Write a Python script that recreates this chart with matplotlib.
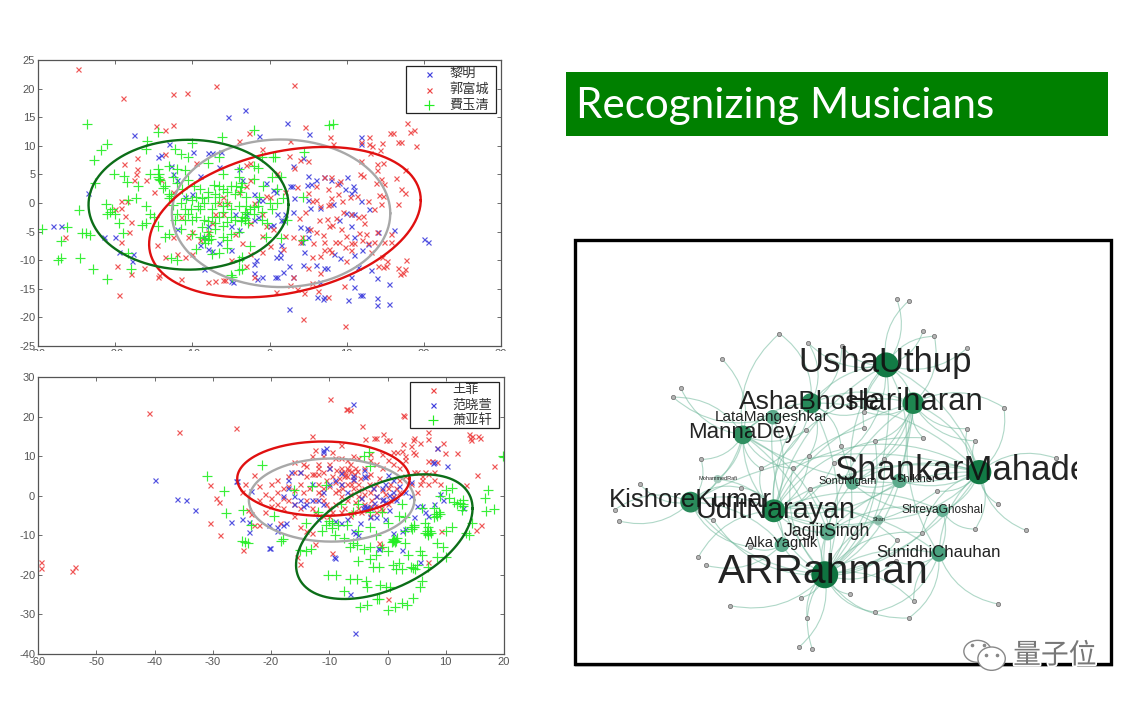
import numpy as np
import matplotlib
matplotlib.use('Agg')
import matplotlib.pyplot as plt
import matplotlib.patheffects as pe
from matplotlib.patches import Rectangle, FancyArrowPatch, Ellipse

plt.rcParams['font.family'] = ['Liberation Sans', 'Noto Sans CJK SC', 'DejaVu Sans']
plt.rcParams['axes.unicode_minus'] = False

# ---------- top scatter ----------
top_names = ['黎明', '郭富城', '費玉清']
top_red = [(-24.8,23.5),(-6.9,20.4),(3.2,20.7),(-19,18.3),(-12.5,19),(-10.7,19.3),(-14.7,13.4),(-13.5,12.8),(-12.5,13.6),(-2.6,12.2),
(17.8,14),(18.7,12.8),(18.2,12.4),(15.6,12.2),(16,12.2),(17,10.7),(16.6,10.6),(19,10),(12.9,11.6),(11.9,10.6),(12.9,10.4),(14.6,10.5),(13.3,9.9),(14.3,9.3),(7.8,11.6),(8.2,10.4),(4.6,13.2),(13,8.7),(11.8,7.4),(14.7,7),(13.9,6.9),(13.9,5.7),(17.5,5.8),(12.1,4.8),(11.7,5.1),(14.4,4.2),(16.4,4.3),(13.8,3.5),(14.8,3.3),(17,2.4),(17.5,1.7),(14.2,1.4),(14.7,1.3),(16.6,-0.2),(14.4,-0.2),(13.5,-1),(10.5,-2),(11.5,-2.4),(12.1,-2.2),(12.3,-3.5),(12.5,-5.4),(13.9,-5),(15.7,-5.5),(14.9,-6.8),(15.7,-6.9),(13.5,-6.8),(12.8,-7),(11,-7),(10.6,-7),(9,-6.9),(8.5,-6.8),(9.9,-5.8),(10.6,-8.3),(9.9,-10.2),(14.6,-9.5),(15.2,-10.2),(14,-11),(14.7,-11.2),(15.1,-11.1),(16.7,-11.3),(17.7,-10),(17.5,-11.6),(17.3,-12.3),(16.9,-12.4),(13.2,-8.6),
(7,4.5),(8,4.5),(9.1,3.8),(8.8,3.4),(6,3),(7.6,2.5),(8.9,1.6),(8,0.8),(6,0.5),(5.5,0.3),(7.6,-0.4),(7.9,-0.1),(6.6,-0.6),(6,-5),(5.3,-4.6),(7.5,-2.8),(8.1,-3.9),(7.7,-4),(4.2,-5.9),(5.7,-7),(4,-6.8),(7,-8.2),(7.7,-8),(8,-8.5),(5.5,-9.4),(6.5,-9.2),(5,-11.4),(6.5,-12.2),(5.5,-14),(6.3,-15.4),(4.5,-15.7),(7.6,-16.4),(9.6,-14.5),(4.3,-20.2),(9.8,-21.5),(0.9,-15.6),(3.5,-15),(2.7,-14.4),(3.1,-12.9),(2,-5.8),(1.8,-8),(3,-6),(-1,-5.8),
(-5,-10),(-3,-11),(-2,-13),(-8,-13.8),(-7,-13.7),(-6,-13.5),(-5.8,-13.5),(-11.5,-13.3),(-14.5,-12.9),(-14.3,-12.6),(-18,-12.4),(-19.8,-11),(-16.3,-11.3),(-19.3,-6.8),(-18.2,-5),(-18,-3.3),(-18.7,-2.2),(-20,-1),(-19.2,-0.8),(-18.5,0.3),(-19.2,0.4),(-19.5,-16),(-26.5,-6),(-12,-9),(-11,-9.5),(-10,-9),(-14.6,-7.3),(-9,-6.5),(-10,-5),(-10.5,-6),(-8,-5),(-6,-2),(-7,-2),(-6,1),(-6.5,0),(-5.5,0),(-4,2),(-3,3),(-2.5,4),(-2,0),(-1,-2),(0,1),(-0.5,1.2),(-12.5,2),(-15,2),(-14,4),(-16,4),(-17.5,4),(-17.3,5),(-17.2,6),(-17.2,7.8),(-18.8,6.8),(-13.5,8.5),(-9.5,7),(-3,6.7),(-2.5,7),(-4,10.8),(-1,9.5),(2.5,8.3),(2.7,10.9),(4,7.5),(5,7.3),(3.2,6.2),(1,5.2),(2,2),
(9.5,-1.5),(8.6,-2.6),(9.4,0.3),(10.4,1),(11.3,1.2),(12.8,0.4),(3.8,-2.6),(4.6,-1.5),(5,1.8),(3.5,2.8),(6.4,-3),(6.9,-5.6),(7,-6.8),(9.3,-4.5),(9.8,-7.7),(11.6,-5.3),(12,-6.5),(-3.5,-7),(-2.5,-9),(-1,-8.5),(0,-7.5),(-4.5,-5.5),(-7.5,-3.5),(-11.5,-2.5),(-12.5,-6),(-13.5,-9.5),(-2.5,-3.5),(-0.5,-4),(0.5,-4.5)]
top_blue = [(-28,-4),(-27,-4),(-21.5,-6),(-20,-6),(-19.5,-8.5),(-17.8,-10.2),(-17.7,-9),(-17.5,11.9),(-23.5,1.8),(-14.5,8),(-14,8.4),(-13,10.4),(-5.4,15.1),(-3.2,16.2),(2.3,14),(5.1,12),(-1.3,11.8),(11.9,11.6),(11.8,10.4),(4.4,7.9),(3,6.4),(-12.8,6.5),(-12.5,5),(-12,4),(-8,8.7),(-7.5,8.8),(-6.3,9),(-9.9,8.9),(-4,6),(-6.5,6.3),(-9,4.8),(-3.5,4),(2.6,3),(2.9,2.9),(5,4.8),(4.8,3.2),(5.4,3.4),(6,4),(7,4.6),(8,4),(10.1,4.5),(10.8,3),(9.8,2.4),(11,2.3),(10.6,1.7),(11.8,0.4),(12.9,-1.1),(9.9,-1.7),(10.5,-2),(11,-2),(9,-3),(8.2,-0.2),(6.5,-0.9),(5.3,-0.8),(3.2,0.8),(2,-2),(3,-1.5),(1,-2),(1.5,-3),(0,-4),(0.5,-3.9),(1.8,-3),(0.5,2.3),(0.8,2),(-0.5,3.5),(-1.5,0.5),(-1,0.5),(-2,1.5),(-3,-2),(-2,-3),(-1.5,-2.5),(-4.5,-2),(-5,-4),(-4,-4.8),(-8,-4),(-8.5,-6),(-9,-7.3),(-8,-8),(-7.5,-8.4),(-5,-8.2),(-6.5,-7),(-11,1),(-10,1.5),(-12,-4.5),(4,-4.2),(4.8,-4.4),(5,-4.8),(5,-6),(4.2,-6.8),(4.5,-8.5),(4.4,-10.8),(1.4,-8.5),(1.3,-9.4),(0.8,-9.4),(1.5,-7.3),(-2,-10.7),(-1.7,-10),(-2,-12.2),(-1.6,-13.3),(-1,-13),(0.7,-13),(1,-13),(1.7,-12),(2.5,-11),(3,-13),(-5,-13.7),(-4.7,-13.8),(-8.5,-11.6),(2.5,-18.6),(7,-16.4),(6.9,-16.8),(6.1,-16.4),(10.2,-16.9),(11.7,-16),(12,-16),(13.9,-16.6),(13.9,-17.9),(15.5,-17.6),(11,-14.6),(15.5,-14.2),(13.9,-13.1),(13.2,-11.7),(11.5,-11.2),(10.5,-13),(6.5,-13.8),(6,-10.8),(7,-11.4),(7.5,-11.3),(9.2,-9.7),(8.3,-9),(11,-9.1),(12,-8.2),(12.8,-7.1),(14,-5),(16.1,-4.8),(11,-6),(10.6,-4),(20,-6.3),(20.6,-6.9),(9,3.5),(5,0.5)]
top_green = [(-29.5,-4.5),(-26.3,-4.2),(-24.7,-1.3),(-24.3,-5.3),(-23.8,-5.2),(-23.2,-5.6),(-27,-6.6),(-27.4,-9.9),(-27,-9.6),(-24.6,-9.7),(-22.9,-11.6),(-21.1,-13.3),(-18,-11.6),(-18.3,-8.7),(-23.6,13.8),(-21.8,9.2),(-21,10.3),(-22.8,7.5),(-22.6,3.5),(-20.2,5),(-18.9,4.7),(-18.5,3.6),(-17,3),(-21.2,-0.1),(-20.7,-1.5),(-20.4,-1),(-21,-2),(-20,-2),(-19.5,-3.5),(-18.3,0.5),(-17.3,0.8),(-16,-0.5),(-15.5,-2),(-15,-2.5),(-16,-3.5),(-16.5,-3.8),(-19,-5.3),(-14.5,-4),(-15.5,5),(-14.5,6),(-14.3,5),(-14.2,4),(-15.9,10.9),(-14.5,12.5),(-16,9.5),(-12.2,9.5),(-11.5,8.5),(-10.5,8),(-10,10.5),(-6.1,11.6),(-2,12.7),(7.7,13.7),(8.2,13.8),(-13,6.5),(-12,6),(-11,5.8),(-13.5,3),(-13,1.5),(-12.8,1.2),(-11.5,0),(-11,-1),(-10.5,-2),(-10,0.5),(-9.5,1),(-9,-1),(-8.5,-3),(-8,-3.2),(-7.5,-1),(-7,1.5),(-6.5,3),(-6,2.5),(-5.5,0),(-5,-1),(-4.5,1.5),(-3.7,2.8),(-3.5,3.5),(-3,1),(-2.5,-1),(-2,-0.7),(-1.5,-0.5),(-1,-1.5),(-3.5,-2.5),(-3.2,-3),(-2,-2),(-4,-5),(-5,-5.5),(-6,-4),(-7,-4.5),(-9,-6),(-8.5,-6.2),(-8,-6.5),(-9.5,-8),(-7.5,-9),(-6.5,-8.8),(-12,-10),(-12.7,-9.6),(-11.5,-4.5),(-13,-5.5),(-13.5,-6),(-5.5,-6.5),(-4,-10),(-3.5,-9.5),(-2.5,-7.5),(-3.5,-11.6),(-4.8,-13),(-5,-12.5),(-4,-11.7),(-4,6),(-4,4.5),(-2,4.2),(-2,6.5),(-1.5,6.2),(0.5,8),(0.7,8),(-1,8),(-6,5),(-8,7),(-6.5,8),(0.3,4.5),(1.5,4.5),(1,2.5),(1,0),(1.8,0.8),(2.3,-3),(0.3,-1),(-0.3,-3.5),(-0.5,-6),(1.5,-6.2),(4.3,1),(4.5,8.9),(-7,0),(-8,1),(-9,2.5),(-9.8,3),(-10.5,4),(-10,-5.5),(-6,-1.5),(-5,-2.5),(-4,-0.5),(-3,-0.5),(-7.5,-2.5),(-8.5,0),(-10,-3),(-11,-3),(-12,-2),(4.3,-6.5),
(-14.5,4.6),(-14.3,4.2),(-13.8,2.6),(-13,0.8),(-12.5,-0.4),(-12.2,-3),(-9.3,-0.5),(-8.8,0.8),(-8,2),(-7.2,3.2),(-6.6,1),(-6,-0.5),(-5.5,2),(-5,3),(-4.3,3),(-3.8,2),(-3.2,-1.5),(-2.8,-3.5),(-3.7,-3.2),(-4.5,-3),(-5.5,-3.3),(-6.5,-2.5),(-7,-3.5),(-8,-5),(-8.8,-4.2),(-9.5,-2.5),(-10.2,-1),(-10.8,0.8),(-11.3,2.5),(-12,3.5),(-12.5,4.5),(-7.8,-5.8),(-7.6,-6.3),(-8.3,-7),(-5.5,-7.8),(-6,-6),(-3.2,-2.7),(-2.9,-2),(-1.3,1),(-0.8,3),(0,0),(-1,-3)]
# center x, center y, half width, half height, phase (deg)
top_ellipses = {'#a8a8a8': (1.5,-1.8,14.15,12.9,90), '#e01010': (2,-3.35,17.6,13.15,73), '#0c6e18': (-10.5,-0.3,12.95,11.35,90)}

# ---------- bottom scatter ----------
bot_names = ['王菲', '范晓萱', '萧亚轩']
bot_red = [(-59.5,-16.7),(-59.5,-18.2),(-54.2,-19),(-53.6,-18.1),(-41,20.8),(-35.8,16),(-26,17),(-30.5,2.6),(-29.5,-0.7),(-29,-1.5),(-30.5,-6.8),(-28.7,-10),(-24.8,-13.7),(-15,-17.3),(-15.5,-15.5),(-9.9,24.5),(-7.2,21.8),(-6.9,21.8),(-6.4,21.6),(2.6,20.3),(2.8,20.2),(-4.3,17.7),(7,16.2),(6.9,14.4),(4.3,14.2),(4.6,14.5),(5.5,13.4),(14,15.5),(14.5,15),(14.2,14.5),(14.3,14),(15.5,15.2),(15.9,14.6),(15.3,5.3),(18.3,7.6),(9.5,13.2),(8.5,12),(9.8,10.9),(11.9,10.9),(8.5,8.5),(7.7,8.8),(7,8.7),(4.4,11),(4.8,10.5),(4,12.5),(2.7,13),(2.5,11.3),(1.7,11),(-0.8,15.5),(-0.2,14),(0.3,14.2),(-2,14.6),(-2.3,14.6),(-3.9,14.3),(-12.9,15),(-12.5,11.6),(-9.5,11),(-8,12.8),(-6,10),(-5,9.5),(-3,9),(-2,8),(-1,7),(0,9),(1,8),(2,7),(3,9),(5,6),(6,5),(7,5.5),(8,4),(7,3),(5.5,3),(13.5,2.8),(16,-7.5),(15.2,-8.7),(9.2,-8.9),(7,-16.8),(0,-26),(-1.5,-12),(-1.2,-12.8),(-9.5,-14.5),(-12.5,-12.3),(-13,-9.5),(-25,1),(-24,-3.5),(-23.5,-4.5),(-23,-7.5),(-22,-7.5),(-24.5,3),(-23,5.3),(-22,2.5),(-22,-1),(-21,0.5),(-20,-0.5),(-19,1),(-18,2),(-17,-1),(-16,-2),(-15,3),(-14.5,8),(-15,6),(-14,5),(-13,5.5),(-12.7,5.5),(-12,3),(-12,1),(-11,2),(-11,-1),(-10,-3),(-9,-2),(-9,1),(-8,0),(-8,3),(-8,6),(-8,7),(-7.5,5),(-7,7),(-7,3),(-7,-1),(-6,2),(-6,5),(-6,4),(-5.5,7),(-5,3),(-5,0),(-5,-3),(-4,-2),(-4,2),(-3.5,5),(-3,1),(-3,-2.5),(-2,0),(-2,3),(-2,-4),(-1,-1),(-1,1.5),(0,2),(0,-2),(1,0),(2,4),(2,1),(-16,6),(-17,2.5),(-18,-3),(-19,-2),(-16,-5),(-15,-8),(-14,-9),(-12.5,-4),(-11,-5),(-10,-5),(-8,-4),(-6,-4),(-7,9),(-10,8),(-11,10),(-13,10),(-12,8),(-9,9.5),(-8,9.5),(-6.5,8),(-4,7),(-3,5.5),(-18.5,-7),(-21,-4),(-20,3),
(-10.5,4),(-10,2.5),(-9.5,5),(-9,3.5),(-8.5,1.5),(-8.3,4.5),(-7.8,2),(-7.4,6),(-7,5),(-6.7,6.5),(-6.5,0.5),(-6.2,3),(-5.8,5.5),(-5.5,-1.5),(-5,1.5),(-4.7,4.5),(-4.5,-0.5),(-4,0.5),(-3.6,-3.5),(-3.2,3),(-2.8,-1),(-2.5,2),(-2.2,-2.5),(-1.5,4.5),(-1.2,-3),(-0.5,0.5),(0.5,3),(0.5,-1),(1.5,2),(-12.5,-1),(-12,5.5),(-11.5,0.5),(-11,6),(-10.5,-2),(-13.5,2),(-14,-1),(-14.5,1),(-15,-3),(-16,1.5),(-17,5),(-18,-0.5),(-19,4),(-20,-2.5),(-13,-3),(-9.5,-4),(-7.5,-3),(-6.5,-5),(-4.5,-4),(-3,-5),(-1,-3.5),(3,5),(4,3),(4.5,6),(6.5,6),(6,4),(5,1),(8,6),(9,3),(-7.3,5.2),(-6.3,6.2),(-5.2,6.2),(-8.8,6.5),(-10,7),(-12,7),(-14,7.5),(-16,8.5),(-3,10.5),(-1,10.5),(1,11),(3,10)]
bot_blue = [(-40,4),(-36.2,-0.8),(-34.6,-1.2),(-33,-3.7),(-26.8,-6.6),(-25,-5.8),(-23.7,-6.7),(-23.7,-9.2),(-26,3.8),(-25.8,3.8),(-23.5,1.3),(-20.2,-13.3),(-20.3,-13.2),(-11,11.6),(-10.5,12),(-11,11),(-6,23.2),(-5.5,-34.7),(-6.5,-24.8),(8.5,12.1),(10.2,7.4),(8,8.6),(7.8,8.2),(5.5,-16.8),(2.5,-13.8),(-1.7,-13.2),(-1.5,-13.5),(-9,-15.7),(-9.2,-15.5),(-20.3,-7.3),(-19,-9),(-18,-7.5),(-17.5,-7),(-17,4),(-17,2),(-16,-2),(-15,6),(-16.5,6),(-13,3),(-12,-1),(-11,1),(-10,3),(-10,7),(-9,4),(-9,-6.5),(-8,3),(-7,1),(-6,5),(-6,-9),(-5.5,-9.5),(-5,-10),(-4.8,-7),(-4,5),(-3.8,4.7),(-4,6.5),(-3.5,-2.8),(-3,-5.5),(-2,-5.5),(-2.5,2),(-2,0),(-1,-1),(-0.5,-1.5),(0,5.3),(0.2,-3.5),(-0.5,-6),(1,1),(1,-9.5),(2,2.5),(2.5,-9),(3,-8.5),(4,0),(4.5,-5.5),(5,-2.5),(6,-2.5),(6.5,-4),(7,-5),(8,-2),(9,0.5),(9.5,-1),(13,-3),(4,3.5),(3,1),(-7,-6),(-8,-7),(-12,-6),(-14,-2),(-18,0),(-19,-8),(-3,-3),(-4.5,-0.5),(-1,2),(-0.5,3),(1,4),(-13,-1),(-15,-1),(-4,-2.7),(-3.7,-2.9),(-4.2,-3),(-0.7,-0.8),(0.3,0.3),(0.8,-0.5),(1.5,-1),(-2.3,-1.8),(-6,4.2),(-8,5.8),(-11,-2),(-14.5,-2.5),(-16,0)]
bot_green = [(19.8,10),(20,9.8),(-31,5),(-28,1.3),(-27.8,-4.3),(-21.5,7.7),(17.3,1.5),(16.8,-0.5),(18.2,-3.3),(16.9,-3.8),(14,-10),(13.5,-9.5),(14.5,-7),(12.8,-3.5),(12,-2),(13,-1),(11.5,-1.5),(10,1.5),(10.5,-0.5),(8,-3),(8.5,-5),(9,-4.5),(-25,-11.5),(-24.5,-11.6),(-24,-12),(-23.5,-7.5),(-24.8,-3.5),(-18,-11),(-18.3,-11.5),(-15,-13.8),(-14,-14),(-13.2,-13.5),(-11.2,-9),(-10.5,-7.5),(-9.5,-7),(-8.5,-7.5),(-7.5,-10.7),(-6,-12),(-5.3,-12.5),(-5,-16.5),(-3,-16),(-2.5,-18),(-1.5,-18),(1,-17.5),(1.5,-18.5),(2.5,-18.5),(4,-18),(4.7,-18.5),(5,-17.5),(1,-11.5),(1.3,-11.8),(1,-11),(1.5,-11.5),(4,-8),(4.2,-8.5),(4.5,-7.5),(6.5,-9.5),(7,-9.8),(7.3,-9),(7,-10),(8.5,-12),(9.5,-13),(10,-15.5),(8.5,-15.5),(7,-18),(-1,-13),(0,-14),(3,-12),(6,-15),(-3,-13),(-10.3,-20),(-8.9,-20),(-7.4,-24),(-6.5,-21),(-5.3,-21),(-3.7,-21.5),(-3.5,-23),(-1.3,-22.5),(-0.3,-23),(0.5,-23),(-1.5,-26),(-1.8,-26.2),(-4.8,-28),(-3.5,-27.5),(0,-29),(1.3,-28),(2.5,-27),(3.3,-27.5),(4.3,-25.8),(5.5,-23),(6,-21.5),(3,-9),(2,-5),(3,-5.5),(6,-3),(6.5,-7),(7,-8),(8,-5.5),(10,-9),(11,-8),(2.5,-2),(-3,7.5),(-4,10),(-3.2,11),(-13,2.5),(-10.5,2.7),(-12,-4),(-16,1.5),(-14,-7),(-19.5,-5),(-9.5,-8.2),(-8,-2),(-5,-2),(-3,-4),(-1,-4),(0,-7),(-3,-8),(-2,-10),(-6,-4),(11,2),(9,0),(13,-2.5),
(8.3,-4.5),(8.8,-4),(12.5,-1.8),(13,-2),(6.8,-9),(7.5,-9.5),(4.5,-8),(1.2,-11.2),(0.8,-11.8),(1.7,-10.8),(4.3,-18.3),(2,-17),(5.5,-14),(3.5,-15),(-2,-15),(-4,-13.5),(-6.5,-13),(-9,-10),(-5,-9),(-10,-6.5),(-7,-7.5)]
bot_ellipses = {'#a8a8a8': (-9.6,-1.1,14.2,10.5,90), '#e01010': (-11,4.3,14.8,9.4,90), '#0c6e18': (-0.55,-10.35,15.15,15.75,63)}

# ---------- network (positions) ----------
hub_names = ['UshaUthup','Hariharan','AshaBhosle','LataMangeshkar','MannaDey','ShankarMahadev','KishoreKumar','UditNarayan','JagjitSingh','AlkaYagnik','ARRahman','SunidhiChauhan','ShreyaGhoshal','SonuNigam','ShiKher','Shan','MohammedRafi']
hub_x = [900,977,686,577,492,1165,343,580,733,603,725,1050,1060,803,938,878,420]
hub_y = [390,505,505,547,600,712,802,828,893,930,1020,957,828,745,738,856,733]
hub_radius = [36,31,29,21,27,35,30,33,23,21,39,23,18,19,21,14,12]
hub_shade = ['#127a45','#1e8650','#27895a','#5cab8c','#2f8f60','#127a45','#2a8a5b','#1e8650','#5cab8c','#5cab8c','#0f7340','#4aa17f','#66b296','#5cab8c','#5cab8c','#88bba8','#a6ccbe']
hub_font = [25,22.4,19,11,16,25,18.5,20.7,12.7,10.7,29.3,12.1,8.6,8,8,4,4]
hub_label_x = [898,982,680,575,491,1141,343,585,731,601,720,1048,1060,790,985,880,420]
hub_label_y = [383,500,500,545,594,708,797,826,890,926,1012,954,827,740,733,855,732]
leaf_x = [930,965,1005,1037,1130,596,678,773,432,315,293,1235,1131,1153,1005,868,837,838,672,771,680,895,750,1383,373,543,634,486,684,1045,1217,198,127,138,407,1153,1298,1001,931,513,365,387,927,657,796,978,1219,456,868,964,675,653,690]
leaf_y = [193,197,288,304,340,296,324,333,372,459,487,518,581,618,609,619,578,530,585,632,665,672,685,670,674,701,701,759,762,769,807,747,825,858,855,883,887,894,917,936,967,992,980,1089,1079,1100,1108,1113,1132,1150,1149,1236,1244]
leaf_links = [[0],[0],[0],[0,1],[0],[4,2],[2,0],[0,2],[4],[4],[4,3],[1,5],[1,5],[5,1],[1,7],[1,10],[0,7],[1,2],[4,7,1],[2,10],[7,2],[1,10],[7,0],[5],[6,4],[7,4,2],[4,10,5],[6,7],[7,1,10],[5,7],[5],[6],[6],[6],[6,10],[5,12],[5],[10,5],[10,7],[9,6],[7],[9],[10,11],[10],[10],[10,11],[11],[10],[10,11],[11,10],[10],[10],[10]]
hub_links = [(0,1),(0,2),(0,5),(0,7),(0,10),(0,13),(0,14),(1,2),(1,5),(1,7),(1,10),(1,8),(1,13),(1,11),(2,3),(2,4),(2,5),(2,7),(2,10),(3,4),(3,7),(3,10),(4,6),(4,7),(4,10),(4,5),(4,8),(5,7),(5,10),(5,11),(5,12),(5,13),(5,14),(5,8),(6,7),(6,10),(6,9),(6,16),(6,5),(7,8),(7,9),(7,10),(7,12),(7,14),(7,11),(8,10),(8,12),(9,10),(10,11),(10,12),(10,13),(10,14),(10,15),(11,12),(12,13),(13,14),(16,7),(16,4),(15,7),(15,5)]

title_text = 'Recognizing Musicians'
watermark = '量子位'

W, H = 1133, 705
fig = plt.figure(figsize=(W/100, H/100), dpi=100, facecolor='white')

def px_axes(l, t, r, b, **kw):
    return fig.add_axes([l/W, 1-b/H, (r-l)/W, (b-t)/H], **kw)

def scatter_panel(box, xlim, ylim, xt, yt, series, ellipses, legbox):
    ax = px_axes(*box)
    ax.set_xlim(*xlim); ax.set_ylim(*ylim)
    ax.set_xticks(list(xt)); ax.set_yticks(list(yt))
    ax.tick_params(direction='in', top=True, right=True, length=3, width=0.6, color='#555555',
                   labelsize=8, labelcolor='#555555', pad=2)
    for s in ax.spines.values():
        s.set_color('#555555'); s.set_linewidth(0.9)
    for pts, col, mk, ms, name in series:
        a = np.array(pts)
        ax.plot(a[:,0], a[:,1], ls='none', marker=mk, ms=ms, mew=0.85, color=col, label=name, alpha=0.9)
    t = np.linspace(0, 2*np.pi, 240)
    for col, (cx, cy, hw, hh, ph) in ellipses.items():
        ax.plot(cx+hw*np.cos(t), cy+hh*np.cos(t-np.radians(ph)), color=col, lw=1.7)
    l, tp, r, b = box
    lx0 = (legbox[0]-l)/(r-l); lx1 = (legbox[2]-l)/(r-l)
    ly0 = (b-legbox[3])/(b-tp); ly1 = (b-legbox[1])/(b-tp)
    ax.add_patch(Rectangle((lx0, ly0), lx1-lx0, ly1-ly0, transform=ax.transAxes, fc='white', ec='#222222', lw=0.9, zorder=5))
    n = len(series)
    for i, (pts, col, mk, ms, name) in enumerate(series):
        yy = ly1-(ly1-ly0)*(i+0.5)/n
        ax.plot([lx0+(lx1-lx0)*0.26], [yy], transform=ax.transAxes, marker=mk, ms=ms, mew=0.85, color=col, ls='none', zorder=6)
        ax.text(lx0+(lx1-lx0)*0.48, yy, name, transform=ax.transAxes, ha='left', va='center',
                fontsize=9.5, color='#333333', zorder=6, family=['Noto Sans CJK SC','DejaVu Sans'])
    return ax

RED, BLUE, GREEN = '#ee4444', '#4040dd', '#22ee22'
scatter_panel((38,60,501,346), (-30,30), (-25,25), range(-30,31,10), range(-25,26,5),
    [(top_blue,BLUE,'x',3.6,top_names[0]), (top_red,RED,'x',3.6,top_names[1]), (top_green,GREEN,'+',7,top_names[2])],
    top_ellipses, (406,66,496,113))
scatter_panel((38,377,504,654), (-60,20), (-40,30), range(-60,21,10), range(-40,31,10),
    [(bot_red,RED,'x',3.6,bot_names[0]), (bot_blue,BLUE,'x',3.6,bot_names[1]), (bot_green,GREEN,'+',7,bot_names[2])],
    bot_ellipses, (410,382,499,428))

# white strip: the tick labels of the upper panel are cut off in the reference
fig.add_artist(Rectangle((0, 1-370/H), 520/W, 19/H, transform=fig.transFigure, fc='white', ec='none', zorder=20))

# overlay axes in pixel coordinates for the slide elements
over = fig.add_axes([0,0,1,1]); over.set_xlim(0,W); over.set_ylim(H,0); over.axis('off'); over.patch.set_alpha(0)
over.add_patch(Rectangle((566,72), 542, 64, fc='#008000', ec='none'))
over.text(576, 106, title_text, color='white', fontsize=30.4, family='Lato', va='center', ha='left')
over.add_patch(Rectangle((575,241), 538, 426, fc='#c9c9c9', ec='none', zorder=1))
over.add_patch(Rectangle((574.5,239.5), 536, 424, fc='white', ec='black', lw=2.4, zorder=2))

# network
net = px_axes(574,239,1111,664)
net.set_xlim(11,1540); net.set_ylim(1288,12); net.axis('off'); net.patch.set_alpha(0)
def edge(x0,y0,x1,y1,rad,lw,alpha):
    net.add_patch(FancyArrowPatch((x0,y0),(x1,y1),arrowstyle='-',connectionstyle=f'arc3,rad={rad}',
                  color='#6fb89b',lw=lw,alpha=alpha,shrinkA=0,shrinkB=0,zorder=2))
for i,(a,b) in enumerate(hub_links):
    edge(hub_x[a],hub_y[a],hub_x[b],hub_y[b],0.22 if i%2 else -0.22,0.9,0.5)
for i,links in enumerate(leaf_links):
    for j,h in enumerate(links):
        edge(leaf_x[i],leaf_y[i],hub_x[h],hub_y[h],0.28 if (i+j)%2 else -0.28,0.8,0.55)
net.plot(leaf_x, leaf_y, ls='none', marker='o', ms=3, mfc='#b5b5b5', mec='#777777', mew=0.6, zorder=3)
for x,y,r,c in zip(hub_x,hub_y,hub_radius,hub_shade):
    net.add_patch(Ellipse((x,y), 2*r*0.98, 2*r*1.04, fc=c, ec='none', zorder=4))
clip = Rectangle((11,12),1432,1276,transform=net.transData)
for name,x,y,fs in zip(hub_names,hub_label_x,hub_label_y,hub_font):
    t = net.text(x,y,name,ha='center',va='center',fontsize=fs,color='#111111',zorder=5,family='Liberation Sans',alpha=0.92)
    t.set_clip_path(clip)
    t.set_clip_on(True)

# watermark
wm = net.text(1380,1262,watermark,ha='center',va='center',fontsize=20,color='#777777',zorder=8,
              family=['Noto Sans CJK SC','DejaVu Sans'])
wm.set_path_effects([pe.withStroke(linewidth=2.5,foreground='white')])
net.add_patch(Ellipse((1160,1250),78,66,fc='white',ec='#888888',lw=1,zorder=8,clip_on=False))
net.add_patch(Ellipse((1200,1272),78,70,fc='white',ec='#888888',lw=1,zorder=8,clip_on=False))
net.plot([1145,1178,1185,1215],[1232,1232,1262,1262],ls='none',marker='o',ms=1.6,color='#888888',zorder=9)

fig.savefig('out.png', dpi=100, facecolor='white')
